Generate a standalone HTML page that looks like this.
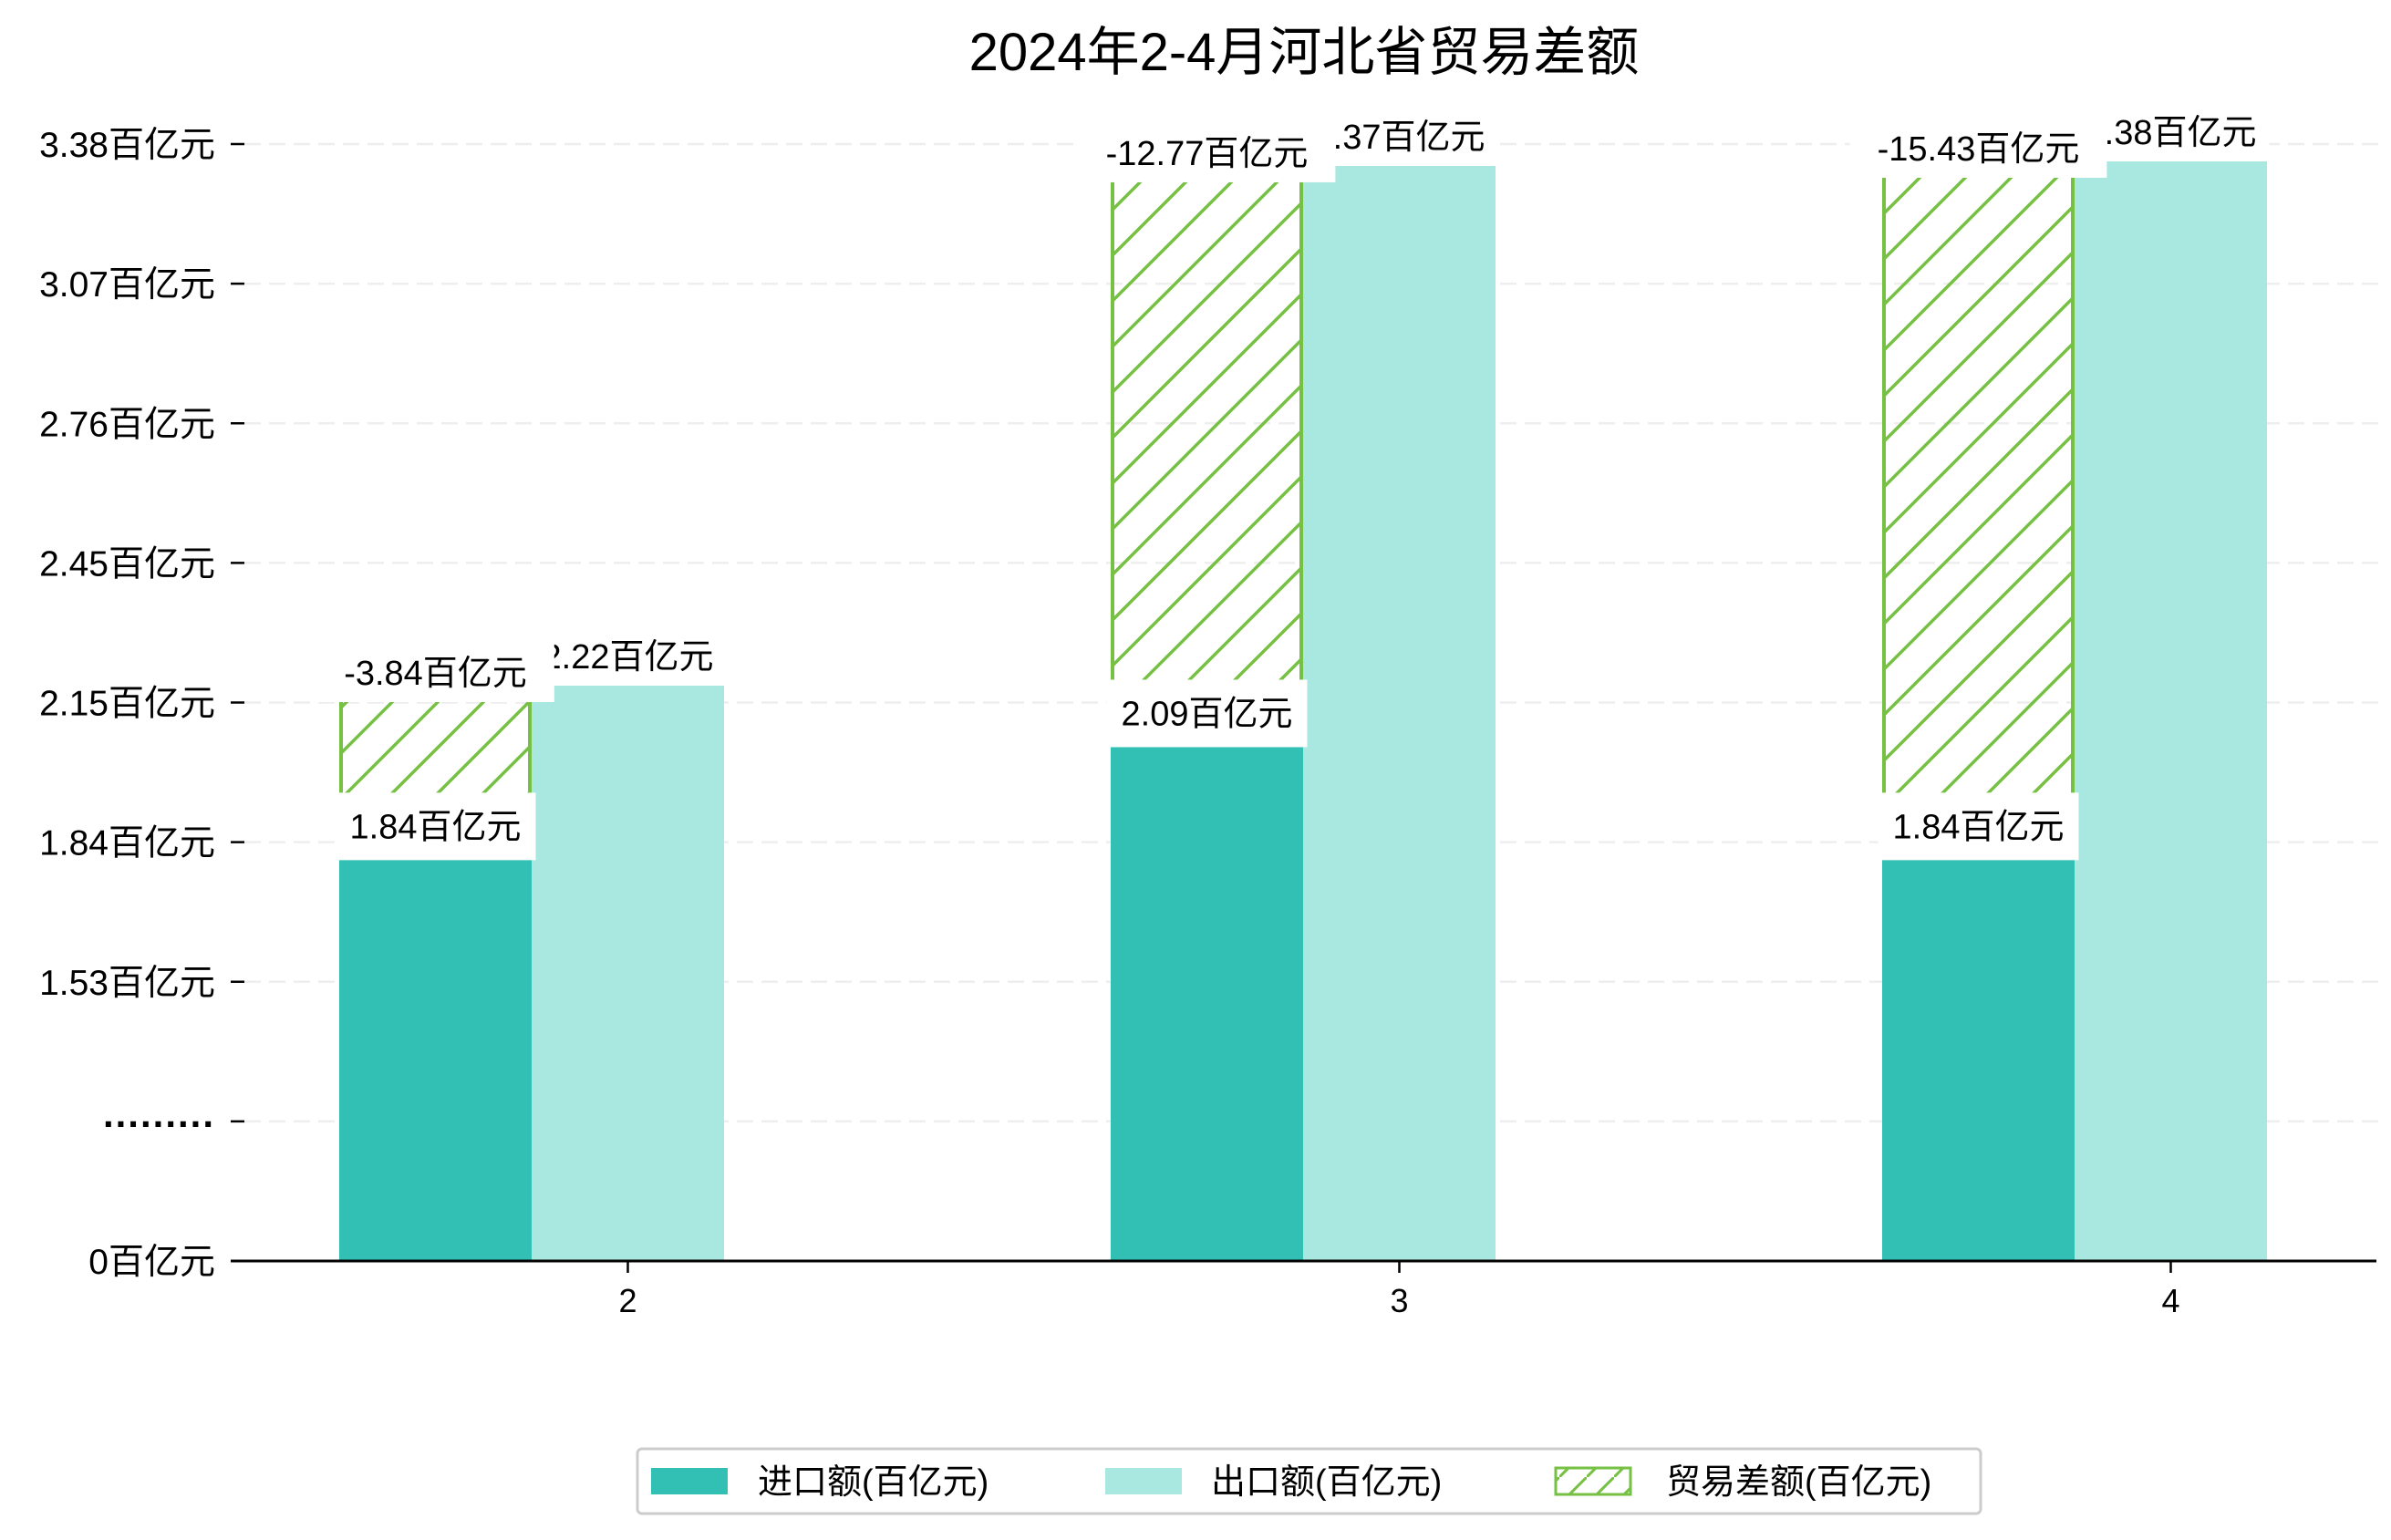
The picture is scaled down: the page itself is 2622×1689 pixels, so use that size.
<!DOCTYPE html>
<html><head><meta charset="utf-8"><style>
html,body{margin:0;padding:0;background:#fff;}
svg{display:block;}
text{font-family:"Liberation Sans","Noto Sans CJK SC",sans-serif;fill:#000;}
</style></head><body>
<svg id="chart" width="2622" height="1689" viewBox="0 0 2622 1689" xmlns="http://www.w3.org/2000/svg">
<defs>
<pattern id="hatch" patternUnits="userSpaceOnUse" width="50" height="50">
<line x1="0" y1="50" x2="50" y2="0" stroke="#76c043" stroke-width="3.5"/>
<line x1="-5" y1="5" x2="5" y2="-5" stroke="#76c043" stroke-width="3.5"/>
<line x1="45" y1="55" x2="55" y2="45" stroke="#76c043" stroke-width="3.5"/>
</pattern>
<pattern id="hatch-legend" patternUnits="userSpaceOnUse" width="30" height="30">
<line x1="0" y1="30" x2="30" y2="0" stroke="#76c043" stroke-width="3"/>
</pattern>
</defs>
<rect width="2622" height="1689" fill="#fff"/>
<text x="1430" y="77" font-size="58" text-anchor="middle">2024年2-4月河北省贸易差额</text>
<g id="grid"></g>
<g id="bars"></g>
<g id="labels"></g>
<g id="axes"></g>
<g>
<rect x="699" y="1589" width="1473" height="71" rx="5" fill="#fff" stroke="#ccc" stroke-width="3"/>
<rect x="714" y="1610" width="84" height="29" fill="#31c0b3"/>
<text x="831" y="1638" font-size="38">进口额(百亿元)</text>
<rect x="1212" y="1610" width="84" height="29" fill="#a9e7e1"/>
<text x="1328" y="1638" font-size="38">出口额(百亿元)</text>
<rect x="1706" y="1610" width="82" height="29" fill="url(#hatch-legend)" stroke="#76c043" stroke-width="3"/>
<text x="1827" y="1638" font-size="38">贸易差额(百亿元)</text>
</g>
</svg>
<script>
const months = ['2', '3', '4'];
const importVals = [1.84, 2.09, 1.84];
const exportVals = [2.22, 3.37, 3.38];
const balanceVals = [-3.84, -12.77, -15.43];
const yTickLabels = ['0百亿元', '.........', '1.53百亿元', '1.84百亿元', '2.15百亿元', '2.45百亿元', '2.76百亿元', '3.07百亿元', '3.38百亿元'];

const NS = 'http://www.w3.org/2000/svg';
const baseY = 1383, axisLeft = 253, axisRight = 2606;
const pxPerUnit = 495.7, vTop = 3.38, yTopPx = 177;
function y(v) { return yTopPx + (vTop - v) * pxPerUnit; }
const barW = 211, groupStep = 846, firstLeft = 372;
function xGroup(i) { return firstLeft + i * groupStep; }
const tickStep = (baseY - 158) / (yTickLabels.length - 1);
function yTick(i) { return baseY - i * tickStep; }
function fmt(v) { return (Math.round(v * 100) / 100).toString(); }
function mk(tag, attrs, parent) {
  const e = document.createElementNS(NS, tag);
  for (const k in attrs) e.setAttribute(k, attrs[k]);
  parent.appendChild(e);
  return e;
}
const grid = document.getElementById('grid');
const bars = document.getElementById('bars');
const labels = document.getElementById('labels');
const axes = document.getElementById('axes');

yTickLabels.forEach((lab, i) => {
  const ty = yTick(i);
  if (i > 0) {
    const g = mk('line', {x1: 268, x2: 2610, y1: ty, y2: ty, stroke: '#eeeeee', 'stroke-width': 2.5, 'stroke-dasharray': '18,9'}, grid);
    
    
    const tk = mk('line', {x1: 253, x2: 268, y1: ty, y2: ty, stroke: '#000', 'stroke-width': 2.5}, axes);
    
    
  }
  const attrs = {x: 236, y: ty + 14, 'font-size': 39, 'text-anchor': 'end'};
  if (i === 1) { attrs['font-size'] = 42; attrs['letter-spacing'] = 2; attrs.x = 236; attrs.y = ty + 6; attrs['font-weight'] = 'bold'; }
  const t = mk('text', attrs, axes);
  t.textContent = lab;
  
  
});

const ax = mk('line', {x1: axisLeft, x2: axisRight, y1: baseY, y2: baseY, stroke: '#000', 'stroke-width': 3}, axes);



function labelBox(cx, bottom, text, name, h, pad) {
  const g = mk('g', {}, labels);
  
  
  const r = mk('rect', {fill: '#fff'}, g);
  const t = mk('text', {x: cx, y: bottom - h / 2 + 13, 'font-size': 38, 'text-anchor': 'middle'}, g);
  t.textContent = text;
  let w = 0;
  try { w = t.getComputedTextLength(); } catch (e) { w = 190; }
  if (!w) w = 190;
  r.setAttribute('x', cx - w / 2 - pad);
  r.setAttribute('y', bottom - h);
  r.setAttribute('width', w + 2 * pad);
  r.setAttribute('height', h);
}

months.forEach((m, i) => {
  const left = xGroup(i);
  const yi = y(importVals[i]), ye = y(exportVals[i]);
  const bi = mk('rect', {x: left, y: yi, width: barW, height: baseY - yi, fill: '#31c0b3'}, bars);
  
  
  const be = mk('rect', {x: left + barW, y: ye, width: barW, height: baseY - ye, fill: '#a9e7e1'}, bars);
  
  
  const bh = mk('rect', {x: left + 2, y: ye, width: barW - 4, height: yi - ye, fill: 'url(#hatch)', stroke: '#76c043', 'stroke-width': 4}, bars);
  
  
  const tk = mk('line', {x1: left + barW * 1.5, x2: left + barW * 1.5, y1: baseY, y2: baseY + 13, stroke: '#000', 'stroke-width': 2.5}, axes);
  
  
  const tl = mk('text', {x: left + barW * 1.5, y: baseY + 56, 'font-size': 36, 'text-anchor': 'middle'}, axes);
  tl.textContent = m;
  
  
});
months.forEach((m, i) => {
  const left = xGroup(i);
  labelBox(left + barW * 1.5, y(exportVals[i]), fmt(exportVals[i]) + '百亿元', 'label-export-' + m, 64, 14);
});
months.forEach((m, i) => {
  const left = xGroup(i);
  labelBox(left + barW / 2, y(exportVals[i]) + 18, fmt(balanceVals[i]) + '百亿元', 'label-balance-' + m, 64, 30);
});
months.forEach((m, i) => {
  const left = xGroup(i);
  labelBox(left + barW / 2, y(importVals[i]) + 3, fmt(importVals[i]) + '百亿元', 'label-import-' + m, 74, 16);
});
</script>
</body></html>
